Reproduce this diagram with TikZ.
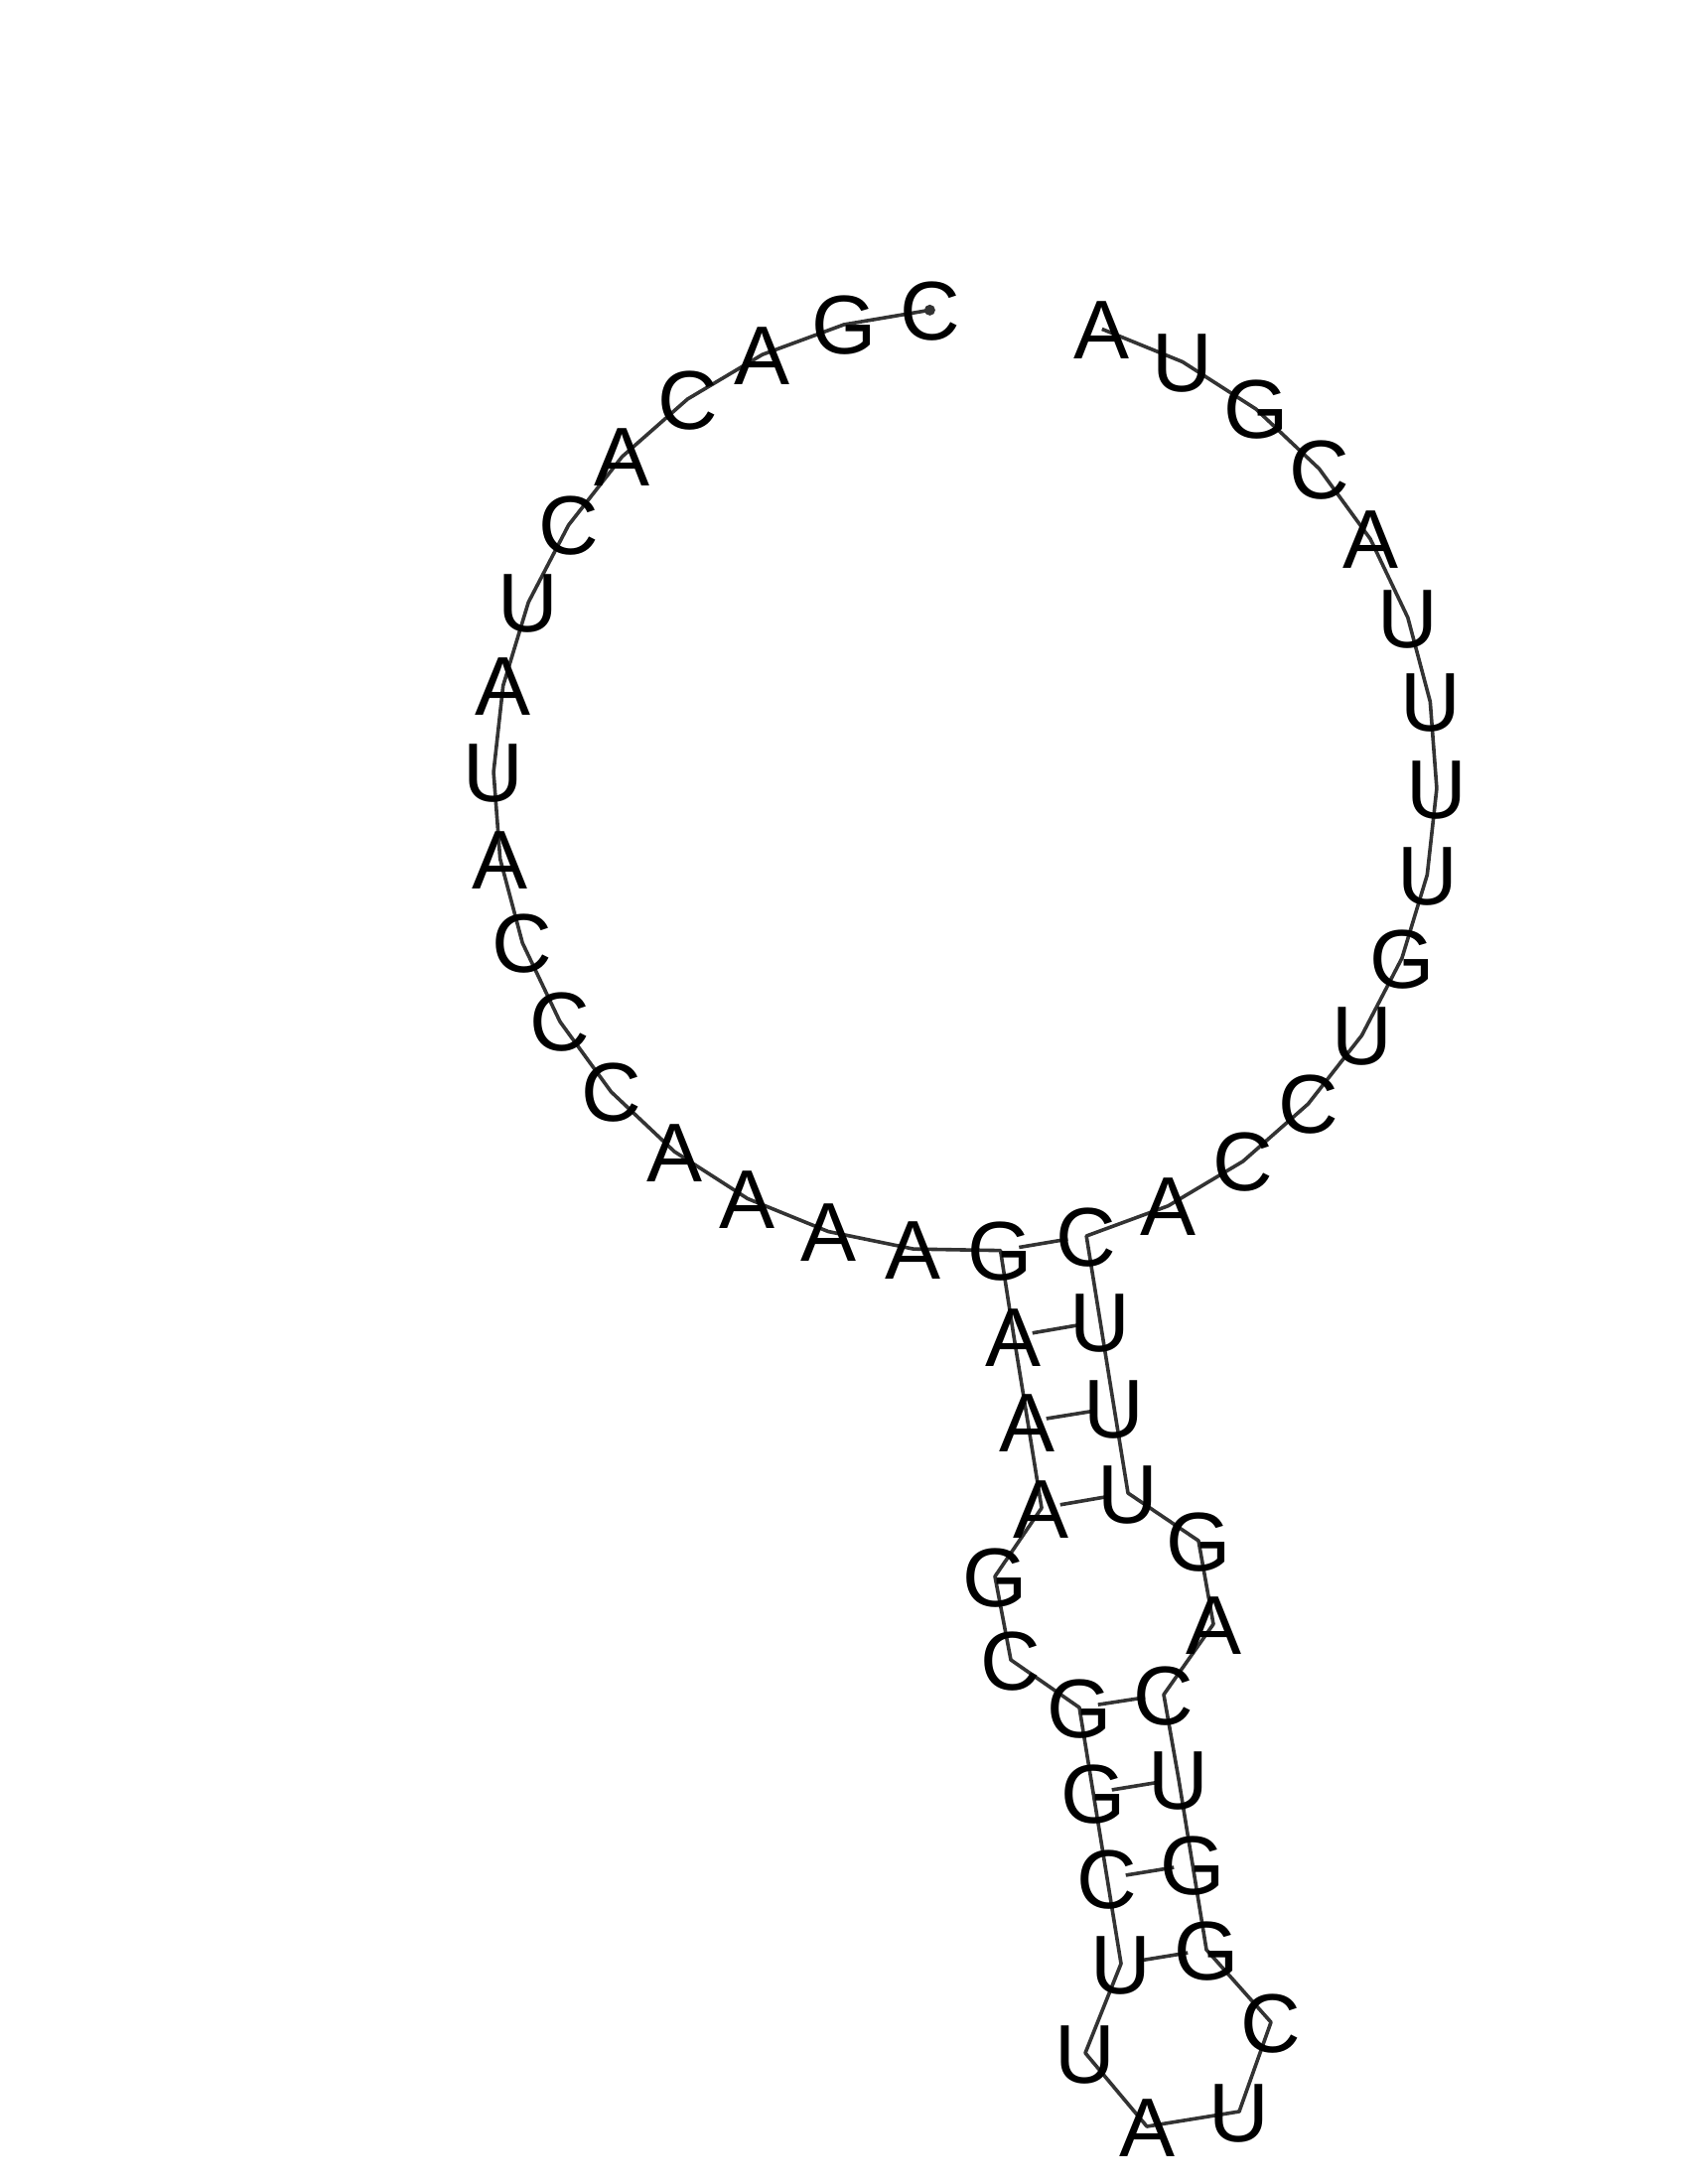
\documentclass[tikz,border=0pt]{standalone}
\usepackage{fontspec}
\setmainfont{Liberation Sans}
\definecolor{ln}{HTML}{333333}
\pgfdeclarelayer{bg}
\pgfsetlayers{bg,main}
\begin{document}
\begin{tikzpicture}[x=1pt,y=-1pt,
  base/.style={inner sep=0pt, outer sep=0pt, font=\fontsize{84}{84}\selectfont, text height=60pt, text depth=0pt, anchor=center, text=black},
  bb/.style={draw=ln, line width=3.6pt, line join=round},
  bp/.style={draw=ln, line width=3.6pt, shorten <=19pt, shorten >=19pt}]
\useasboundingbox (0,0) rectangle (1700,2200);
% exterior loop, left arc
\foreach \l [count=\k from 1] in {C,G,A,C,A,C,U,A,U,A,C,C,C,A,A,A,A,G}
  \node[base] (n\k) at ({972+475*cos(94.3+(\k-1)*10.588)},{786-475*sin(94.3+(\k-1)*10.588)}) {\l};
% exterior loop, right arc
\foreach \l [count=\k from 41] in {C,A,C,C,U,G,U,U,U,U,A,C,G,U,A}
  \node[base] (n\k) at ({972+475*cos(284.9+(\k-41)*10.588)},{786-475*sin(284.9+(\k-41)*10.588)}) {\l};
% stem and inner loops
\foreach \k/\l/\x/\y in {19/A/1021/1346, 20/A/1035/1432, 21/A/1049/1519, 22/G/1002/1588,
  23/C/1018/1672, 24/G/1087/1720, 25/G/1101/1806, 26/C/1115/1892, 27/U/1129/1978,
  28/U/1093/2068, 29/A/1155/2142, 30/U/1248/2127, 31/C/1280/2037, 32/G/1215/1964,
  33/G/1201/1878, 34/U/1187/1792, 35/C/1172/1707, 36/A/1222/1636, 37/G/1207/1552,
  38/U/1136/1504, 39/U/1122/1418, 40/U/1108/1331}
  \node[base] (n\k) at (\x,\y) {\l};
\begin{pgfonlayer}{bg}
\draw[bb] (n1.center) \foreach \k in {2,...,55} {-- (n\k.center)};
\foreach \a/\b in {18/41,19/40,20/39,21/38,24/35,25/34,26/33,27/32}
  \draw[bp] (n\a.center) -- (n\b.center);
\fill[ln] (n1.center) circle (5.5pt);
\end{pgfonlayer}
\end{tikzpicture}
\end{document}
